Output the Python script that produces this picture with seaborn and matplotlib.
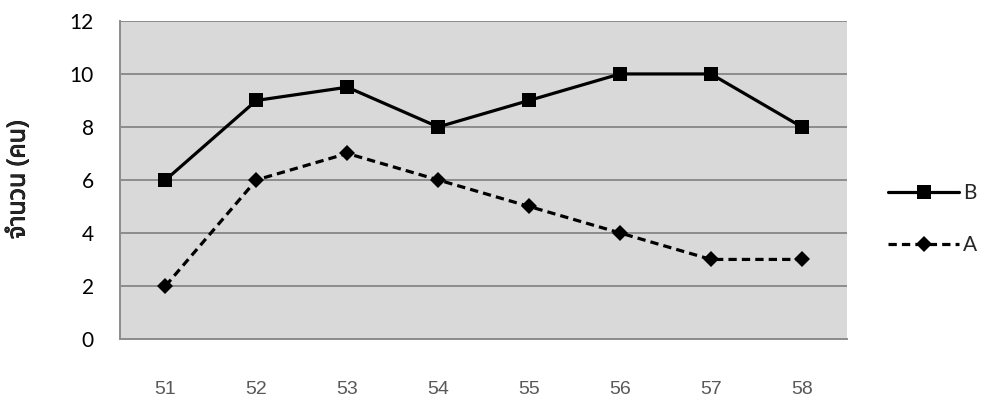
import matplotlib
matplotlib.use("Agg")
import matplotlib.pyplot as plt
import matplotlib.patheffects as pe
from matplotlib import font_manager, ft2font
import seaborn as sns
import pandas as pd

# Data
years = ["51", "52", "53", "54", "55", "56", "57", "58"]
series_b = [6, 9, 9.5, 8, 9, 10, 10, 8]
series_a = [2, 6, 7, 6, 5, 4, 3, 3]
y_ticks = [0, 2, 4, 6, 8, 10, 12]
y_label = "จำนวน (คน)"


def font_with_char(ch, preferred=()):
    """Return the name of an installed font that has a glyph for ch."""
    names = []
    for f in font_manager.fontManager.ttflist:
        try:
            ft = ft2font.FT2Font(f.fname)
            if ord(ch) in ft.get_charmap():
                names.append(f.name)
        except Exception:
            pass
    for p in preferred:
        if p in names:
            return p
    return names[0] if names else "DejaVu Sans"


thai_font = font_with_char("จ", preferred=("Noto Sans Thai", "Loma", "Garuda", "Tlwg Typo"))

df = pd.DataFrame({
    "year": years * 2,
    "value": series_b + series_a,
    "series": ["B"] * len(years) + ["A"] * len(years),
})

sns.set_theme(style="white")
fig = plt.figure(figsize=(9.84, 4.03), dpi=100)
ax = fig.add_axes([0.122, 0.159, 0.739, 0.789])
ax.set_facecolor("#D9D9D9")

sns.lineplot(
    data=df, x="year", y="value", hue="series", style="series",
    hue_order=["B", "A"], style_order=["B", "A"],
    palette={"B": "black", "A": "black"},
    markers={"B": "s", "A": "D"},
    dashes={"B": "", "A": (2.6, 1.6)},
    markersize=9.5, linewidth=2.3, markeredgewidth=0,
    sort=False, ax=ax,
)
# Diamond marker a little smaller than the square
for line in ax.get_lines():
    if line.get_marker() == "D":
        line.set_markersize(8)

ax.set_xlim(-0.5, len(years) - 0.5)
ax.set_ylim(0, 12)
ax.set_yticks(y_ticks)
ax.yaxis.grid(True, color="#8C8C8C", linewidth=1.4)
ax.set_axisbelow(True)

for side in ["top", "right"]:
    ax.spines[side].set_visible(False)
for side in ["left", "bottom"]:
    ax.spines[side].set_color("#8C8C8C")
    ax.spines[side].set_linewidth(1.4)

ax.tick_params(axis="both", length=0)
ax.tick_params(axis="y", pad=19, labelsize=15, labelcolor="black")
ax.tick_params(axis="x", pad=30, labelsize=14, labelcolor="#595959")
for t in ax.get_yticklabels():
    t.set_fontfamily("Lato")
for t in ax.get_xticklabels():
    t.set_fontfamily("Liberation Sans")

ax.set_xlabel("")
ylab = ax.set_ylabel(y_label, fontsize=18, fontweight="bold",
                     family=[thai_font, "DejaVu Sans"])
# thicken the glyphs so the label reads as bold
ylab.set_path_effects([pe.withStroke(linewidth=0.6, foreground="black")])
ax.yaxis.set_label_coords(-0.123, 0.5)

handles, labels = ax.get_legend_handles_labels()
ax.legend(handles, labels, loc="center left", bbox_to_anchor=(1.045, 0.377),
          borderaxespad=0, frameon=False, handlelength=3.4, labelspacing=1.55,
          prop={"family": "Lato", "size": 15}, handletextpad=0.2)

fig.savefig("out.png", dpi=100)
